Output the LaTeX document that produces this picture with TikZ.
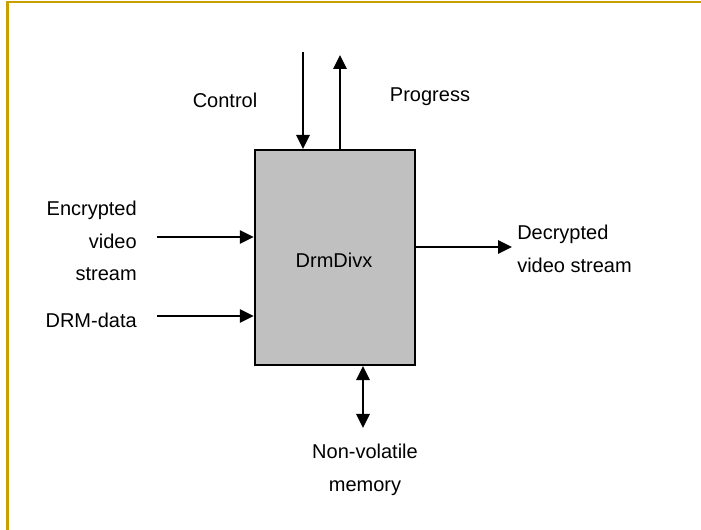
\documentclass[tikz,border=0pt]{standalone}
\usepackage{fontspec}
\setmainfont{Liberation Sans}
\usetikzlibrary{arrows.meta,positioning}
\definecolor{framegold}{RGB}{200,160,0}
\definecolor{boxgray}{RGB}{192,192,192}
\tikzset{
    block/.style = {draw=black, fill=boxgray, line width=1.8pt, rectangle, minimum width=120pt, minimum height=161pt, inner sep=0pt},
    lbl/.style = {font=\fontsize{15}{24.5}\selectfont, inner sep=0pt},
    flow/.style = {line width=1.5pt, -{Triangle[length=10.5pt,width=10pt]}},
    bothflow/.style = {line width=1.5pt, {Triangle[length=10.5pt,width=10pt]}-{Triangle[length=10.5pt,width=10pt]}},
}

\begin{document}
\begin{tikzpicture}[x=0.75pt,y=-0.75pt]
\useasboundingbox (0,0) rectangle (701,530);
\draw[framegold, line width=1.6pt] (7.5,531) -- (7.5,2) -- (702,2);

\node[block] (drm) at (335,257.5) {};
\node[lbl] (drmname) at (334,260) {DrmDivx};

% top: control in, progress out
\node[lbl] (control) at (225,100) {Control};
\node[lbl] (progress) at (430,97) {Progress};
\coordinate (ctrltop) at (303,52);
\coordinate (progtop) at (340,55);
\draw[flow] (ctrltop) -- (ctrltop |- drm.north);
\draw[flow] (progtop |- drm.north) -- (progtop);

% left inputs
\node[lbl, align=right, anchor=east] (enc) at (137,241) {Encrypted\\video\\stream};
\node[lbl, anchor=east] (drmdata) at (137,320) {DRM-data};
\coordinate (encin) at (157,237);
\coordinate (datain) at (157,316);
\draw[flow] (encin) -- (encin -| drm.west);
\draw[flow] (datain) -- (datain -| drm.west);

% right output
\node[lbl, align=left, anchor=west] (dec) at (517,249) {Decrypted\\video stream};
\coordinate (decout) at (512,247);
\draw[flow] (decout -| drm.east) -- (decout);

% memory
\node[lbl, align=center] (nvm) at (365,470) {Non-volatile\\memory};
\coordinate (memend) at (363,428);
\draw[bothflow] (memend |- drm.south) -- (memend);
\end{tikzpicture}
\end{document}
